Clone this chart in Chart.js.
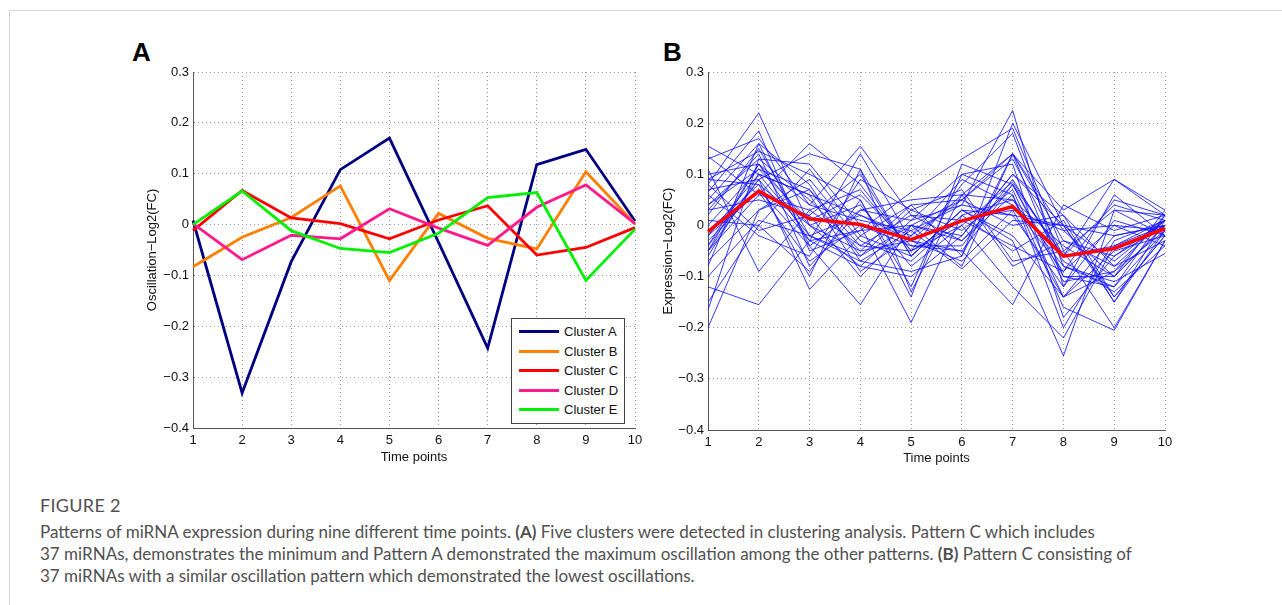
<!DOCTYPE html>
<html>
<head>
<meta charset="utf-8">
<script src="https://cdn.jsdelivr.net/npm/chart.js@4/dist/chart.umd.min.js"></script>
<style>
    body { margin: 0; background: #fff; width: 1282px; height: 605px; position: relative; overflow: hidden; font-family: "Liberation Sans", Arial, sans-serif; }
    #frame { position: absolute; left: 9px; top: 10px; width: 1290px; height: 620px; border-top: 1px solid #d4d4d4; border-left: 1px solid #d4d4d4; }
    canvas { position: absolute; }
    .panel { position: absolute; font: bold 26px "Liberation Sans", Arial, sans-serif; color: #000; }
    #legendA { position: absolute; left: 511px; top: 318px; width: 112px; height: 101px; border: 1px solid #444; background: #fff; padding-top: 3px; box-sizing: content-box; }
    .row { height: 19.6px; position: relative; font-size: 13px; color: #111; }
    .row span.ln { position: absolute; left: 7px; top: 8px; width: 40px; height: 3px; }
    .row span.tx { position: absolute; left: 52px; top: 2px; }
    #caption { position: absolute; left: 40px; top: 494px; font-family: Lato, "Noto Sans", sans-serif; color: #505050; white-space: nowrap; }
    #caption .fig { font-size: 18px; letter-spacing: 0.3px; margin-bottom: 5px; }
    #caption .txt { font-size: 17px; line-height: 22px; }
</style>
</head>
<body>
<div id="frame"></div>
<div class="panel" style="left:132px;top:37px">A</div>
<div class="panel" style="left:663px;top:37px">B</div>
<canvas id="chartA" width="540" height="420" style="left:120px;top:60px"></canvas>
<canvas id="chartB" width="540" height="420" style="left:640px;top:60px"></canvas>
<div id="legendA"></div>
<div id="caption">
    <div class="fig">FIGURE 2</div>
    <div class="txt">Patterns of miRNA expression during nine different time points. <b>(A)</b> Five clusters were detected in clustering analysis. Pattern C which includes<br>37 miRNAs, demonstrates the minimum and Pattern A demonstrated the maximum oscillation among the other patterns. <b>(B)</b> Pattern C consisting of<br>37 miRNAs with a similar oscillation pattern which demonstrated the lowest oscillations.</div>
</div>
<script>
// time points on x
const timePoints = ["1", "2", "3", "4", "5", "6", "7", "8", "9", "10"]

// panel A - cluster means
const clusterA = [0.008, -0.331, -0.073, 0.108, 0.17, -0.035, -0.243, 0.118, 0.148, 0.007]
const clusterB = [-0.083, -0.025, 0.014, 0.076, -0.11, 0.022, -0.027, -0.048, 0.104, 0.001]
const clusterC = [-0.012, 0.067, 0.013, 0.002, -0.028, 0.009, 0.037, -0.06, -0.045, -0.006]
const clusterD = [0.002, -0.069, -0.021, -0.028, 0.031, -0.007, -0.041, 0.034, 0.078, 0.002]
const clusterE = [0.0, 0.066, -0.012, -0.047, -0.055, -0.017, 0.053, 0.063, -0.11, -0.009]

const clusterNames = ["Cluster A", "Cluster B", "Cluster C", "Cluster D", "Cluster E"]
const clusterColors = ["#000080", "#ff8000", "#ff0000", "#ff1a8c", "#00f000"]

// panel B - the 37 miRNAs of pattern C
const patternCMirnas = [
    [0.155, 0.10, 0.06, 0.02, -0.02, 0.05, 0.14, -0.01, -0.10, 0.00],
    [0.135, 0.06, 0.16, 0.08, -0.05, 0.01, 0.03, -0.14, -0.05, -0.02],
    [0.13, 0.17, 0.04, 0.155, 0.02, -0.03, 0.08, -0.06, 0.09, 0.02],
    [0.10, 0.12, -0.03, 0.14, -0.03, 0.06, 0.14, -0.03, -0.08, 0.01],
    [0.09, 0.145, 0.10, 0.05, -0.14, 0.12, 0.08, -0.10, -0.12, -0.01],
    [0.08, 0.22, 0.00, -0.05, 0.04, -0.06, 0.20, 0.00, -0.15, 0.01],
    [0.07, 0.09, 0.14, 0.11, -0.06, 0.03, -0.03, -0.255, 0.03, 0.02],
    [0.065, 0.185, -0.05, -0.01, 0.065, 0.13, 0.19, -0.05, -0.20, -0.03],
    [0.05, 0.16, 0.08, -0.07, -0.01, 0.04, 0.225, -0.12, 0.01, -0.02],
    [0.04, 0.13, 0.12, 0.00, -0.19, 0.02, 0.05, -0.04, -0.10, 0.00],
    [0.03, 0.14, -0.08, 0.03, 0.01, 0.10, 0.06, -0.20, -0.03, 0.01],
    [0.03, 0.05, 0.02, -0.10, 0.00, -0.08, 0.14, 0.03, 0.09, 0.03],
    [0.00, 0.11, 0.01, 0.06, -0.04, -0.04, 0.09, -0.07, -0.13, -0.04],
    [-0.01, 0.08, -0.10, 0.11, -0.13, 0.06, -0.08, -0.03, -0.06, 0.00],
    [-0.02, 0.10, 0.06, -0.09, -0.02, 0.09, 0.04, -0.09, 0.05, 0.02],
    [-0.03, 0.07, -0.04, -0.155, 0.00, -0.02, 0.10, 0.02, -0.14, -0.02],
    [-0.04, 0.12, 0.00, 0.04, -0.08, 0.00, -0.12, -0.22, -0.04, 0.01],
    [-0.05, 0.09, -0.125, -0.02, 0.04, 0.05, 0.00, 0.02, -0.08, -0.03],
    [-0.05, 0.06, 0.03, -0.04, -0.05, 0.08, 0.18, -0.08, -0.11, -0.055],
    [-0.06, 0.10, -0.02, -0.06, 0.03, -0.01, 0.07, -0.14, -0.02, 0.00],
    [-0.07, 0.03, 0.09, -0.03, -0.07, 0.02, -0.05, 0.01, -0.15, -0.01],
    [-0.10, 0.01, -0.02, 0.02, -0.03, -0.05, -0.155, 0.04, -0.01, 0.02],
    [-0.12, -0.155, -0.03, -0.08, 0.01, 0.04, 0.02, -0.12, 0.06, -0.02],
    [-0.15, 0.00, -0.09, 0.05, -0.12, 0.10, 0.12, -0.18, -0.06, 0.01],
    [-0.165, 0.13, 0.05, -0.05, -0.03, -0.07, 0.03, -0.01, 0.00, -0.01],
    [-0.20, 0.03, 0.07, -0.06, 0.00, -0.03, 0.06, -0.16, -0.205, -0.03],
    [0.11, -0.09, 0.03, 0.07, -0.05, 0.00, 0.085, -0.06, -0.04, 0.00],
    [0.02, 0.15, -0.02, -0.07, -0.09, -0.06, 0.14, -0.10, -0.10, 0.03],
    [0.06, -0.02, -0.06, 0.09, 0.03, 0.07, -0.07, -0.05, 0.03, -0.02],
    [-0.05, 0.12, 0.04, 0.01, -0.01, -0.085, 0.01, 0.00, -0.07, 0.01],
    [0.01, 0.00, 0.11, -0.02, -0.06, 0.03, -0.02, -0.14, -0.09, -0.01],
    [-0.08, 0.16, -0.04, 0.03, 0.05, 0.06, 0.05, -0.08, -0.12, 0.02],
    [0.09, 0.08, 0.00, -0.08, -0.10, -0.02, 0.10, 0.00, -0.02, 0.00],
    [0.04, 0.11, 0.07, -0.04, 0.02, 0.01, -0.04, -0.09, 0.00, -0.04],
    [-0.02, 0.065, -0.07, 0.00, -0.04, -0.05, 0.08, -0.11, -0.09, 0.02],
    [0.08, -0.01, 0.02, 0.10, -0.06, 0.03, 0.02, 0.00, -0.14, -0.02],
    [-0.04, 0.09, -0.03, -0.01, 0.00, 0.05, 0.13, -0.06, 0.04, 0.01]
]

const yMin = -0.4
const yMax = 0.3

function tickLabel(v) {
    if (Math.abs(v) < 1e-9) return "0"
    return (v < 0 ? "\u2212" : "") + Math.abs(v).toFixed(1)
}

// builds the matlab-ish axes, yWidth/xHeight force the chart area position
function makeScales(yTitle, yWidth, xHeight) {
    return {
        x: {
            type: "category",
            offset: false,
            grid: { color: "#9a9a9a", lineWidth: 1, drawTicks: false },
            border: { display: true, color: "#555", width: 1, dash: [1, 3] },
            ticks: { color: "#111", font: { size: 13, family: "'Liberation Sans', Arial" }, padding: 5, maxRotation: 0, autoSkip: false },
            title: { display: true, text: "Time points", color: "#111", font: { size: 13, family: "'Liberation Sans', Arial" }, padding: 0 },
            afterFit: function (s) { s.height = xHeight }
        },
        y: {
            min: yMin,
            max: yMax,
            grid: { color: "#9a9a9a", lineWidth: 1, drawTicks: false },
            border: { display: true, color: "#555", width: 1, dash: [1, 3] },
            ticks: { stepSize: 0.1, color: "#111", font: { size: 13, family: "'Liberation Sans', Arial" }, padding: 4, callback: tickLabel },
            title: { display: true, text: yTitle, color: "#111", font: { size: 13, family: "'Liberation Sans', Arial" }, padding: 0 },
            afterFit: function (s) { s.width = yWidth }
        }
    }
}

let clusterData = [clusterA, clusterB, clusterC, clusterD, clusterE]
let datasetsA = []
for (let i = 0; i < clusterData.length; i++) {
    datasetsA.push({
        label: clusterNames[i],
        data: clusterData[i],
        borderColor: clusterColors[i],
        backgroundColor: clusterColors[i],
        borderWidth: 2.8,
        pointRadius: 0,
        tension: 0,
        order: 5 - i
    })
}

let chartA = new Chart(document.getElementById("chartA").getContext("2d"), {
    type: "line",
    data: { labels: timePoints, datasets: datasetsA },
    options: {
        responsive: false,
        animation: false,
        devicePixelRatio: 1,
        layout: { padding: { left: 25, top: 12, right: 25, bottom: 15 } },
        plugins: { legend: { display: false }, tooltip: { enabled: false } },
        scales: makeScales("Oscillation\u2212Log2(FC)", 48, 37)
    }
})

// legend box inside panel A
let legendA = document.getElementById("legendA")
for (let i = 0; i < chartA.data.datasets.length; i++) {
    let ds = chartA.data.datasets[i]
    legendA.innerHTML += '<div class="row"><span class="ln" style="background:' + ds.borderColor + '"></span><span class="tx">' + ds.label + '</span></div>'
}

let datasetsB = [{
    label: "Cluster C",
    data: clusterC,
    borderColor: "#ff0000",
    borderWidth: 3.5,
    pointRadius: 0,
    tension: 0,
    order: 0
}]
for (let i = 0; i < patternCMirnas.length; i++) {
    datasetsB.push({
        label: "miRNA " + (i + 1),
        data: patternCMirnas[i],
        borderColor: "rgba(20,20,255,0.85)",
        borderWidth: 1,
        pointRadius: 0,
        tension: 0,
        order: 1
    })
}

let chartB = new Chart(document.getElementById("chartB").getContext("2d"), {
    type: "line",
    data: { labels: timePoints, datasets: datasetsB },
    options: {
        responsive: false,
        animation: false,
        devicePixelRatio: 1,
        layout: { padding: { left: 21, top: 12, right: 15, bottom: 14 } },
        plugins: { legend: { display: false }, tooltip: { enabled: false } },
        scales: makeScales("Expression\u2212Log2(FC)", 47, 36)
    }
})
</script>
</body>
</html>
